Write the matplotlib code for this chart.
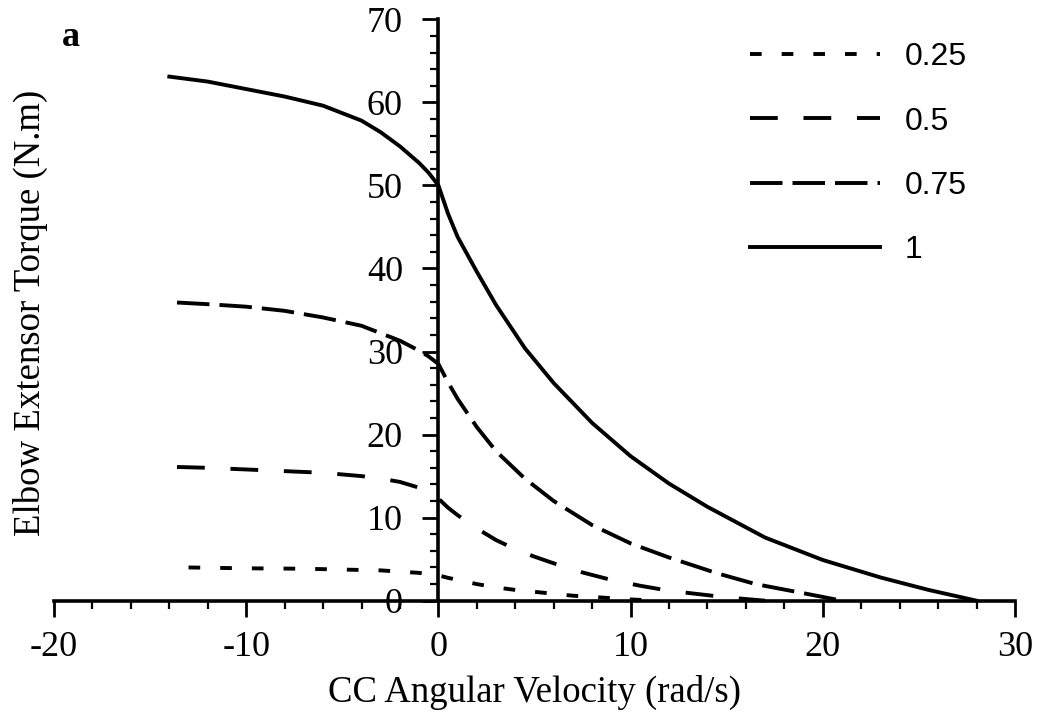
"""Torque-velocity curves of the elbow extensors at four activation levels."""

import matplotlib
matplotlib.use("Agg")
import matplotlib.pyplot as plt
from matplotlib.ticker import MultipleLocator

plt.rcParams["lines.scale_dashes"] = False
plt.rcParams["axes.unicode_minus"] = False

# ---------------------------------------------------------------------------
# Data (CC angular velocity in rad/s, torque in N.m)
# ---------------------------------------------------------------------------

act_labels = ["0.25", "0.5", "0.75", "1"]

vel_025 = [-13, -10, -7, -5, -3, -2, -1, 0, 0.5, 1, 2, 3, 4, 5.5, 7, 8.5, 10, 11.5]
trq_025 = [4.0, 3.9, 3.85, 3.75, 3.65, 3.5, 3.35, 3.05, 2.75, 2.5, 2.0, 1.6, 1.3,
           0.95, 0.6, 0.38, 0.15, 0.0]

vel_050 = [-13.6, -12, -10, -8, -6, -4, -3, -2, -1, 0, 0.5, 1, 2, 3, 4, 5, 6, 7.5,
           9, 10.5, 12, 13.5, 15, 17]
trq_050 = [16.1, 16.0, 15.8, 15.6, 15.4, 15.0, 14.7, 14.3, 13.6, 12.3, 11.2, 10.3,
           8.7, 7.3, 6.2, 5.3, 4.5, 3.4, 2.5, 1.8, 1.2, 0.8, 0.4, 0.0]

vel_075 = [-13.6, -12, -10, -8, -6, -4, -3, -2, -1, -0.5, 0, 0.5, 1, 2, 3, 4.5, 6,
           8, 10, 12, 14.5, 16.5, 19, 21]
trq_075 = [35.9, 35.7, 35.4, 34.9, 34.1, 33.1, 32.2, 31.3, 30.1, 29.4, 28.5, 26.3,
           24.3, 20.9, 18.0, 14.7, 12.0, 9.1, 6.9, 5.2, 3.3, 2.0, 0.9, 0.0]

vel_100 = [-14, -12, -10, -8, -6, -4, -3, -2, -1, -0.5, 0, 0.5, 1, 2, 3, 4.5, 6, 8,
           10, 12, 14, 17, 20, 23, 25.5, 28]
trq_100 = [63.1, 62.5, 61.6, 60.7, 59.6, 57.8, 56.4, 54.7, 52.7, 51.5, 50.0, 46.6,
           43.8, 39.6, 35.6, 30.4, 26.2, 21.4, 17.4, 14.1, 11.3, 7.6, 4.9, 2.8,
           1.3, 0.0]

curves = [
    (vel_025, trq_025, (0, (8.4, 14.4))),
    (vel_050, trq_050, (0, (20, 18.5))),
    (vel_075, trq_075, (0, (23.4, 7.2))),
    (vel_100, trq_100, "-"),
]

SERIF = ["Liberation Serif", "DejaVu Serif"]
SANS = ["Liberation Sans", "DejaVu Sans"]

fig = plt.figure(figsize=(10.39, 7.15), dpi=100)
ax = fig.add_axes([54 / 1039, 114.3 / 715, 961 / 1039, 581.4 / 715])

for (v, t, ls), lab in zip(curves, act_labels):
    ax.plot(v, t, color="black", linewidth=2.8, linestyle=ls, label=lab,
            clip_on=False)

ax.set_xlim(-20, 30)
ax.set_ylim(0, 70)

# axes cross at the origin
ax.spines["left"].set_position(("data", 0))
ax.spines["bottom"].set_position(("data", 0))
ax.spines["top"].set_visible(False)
ax.spines["right"].set_visible(False)
for s in ("left", "bottom"):
    ax.spines[s].set_linewidth(2.6)

ax.xaxis.set_major_locator(MultipleLocator(10))
ax.xaxis.set_minor_locator(MultipleLocator(2))
ax.yaxis.set_major_locator(MultipleLocator(10))
ax.yaxis.set_minor_locator(MultipleLocator(2))
ax.tick_params(which="major", direction="out", length=11.5, width=2.0, pad=10,
               labelsize=26)
ax.tick_params(which="minor", direction="out", length=6, width=1.6)
ax.tick_params(axis="y", which="major", pad=14)
for lbl in ax.get_xticklabels() + ax.get_yticklabels():
    lbl.set_family(SERIF)

fig.text(534 / 1039, 1 - 692 / 715, "CC Angular Velocity (rad/s)",
         ha="center", va="center", fontsize=26.5, family=SERIF)
fig.text(30 / 1039, 1 - 313 / 715, "Elbow Extensor Torque (N.m)",
         ha="center", va="center", rotation=90, fontsize=26.5, family=SERIF)
fig.text(71 / 1039, 1 - 37 / 715, "a", ha="center", va="center",
         fontsize=26, fontweight="bold", family=SERIF)

leg = ax.legend(loc="upper left", bbox_to_anchor=(750 / 1039, 1 - 42 / 715),
                bbox_transform=fig.transFigure, frameon=False,
                handlelength=4.07, handletextpad=0.78, labelspacing=1.08,
                borderaxespad=0, borderpad=0, prop={"family": SANS, "size": 23})

fig.savefig("out.png", dpi=100, facecolor="white")
